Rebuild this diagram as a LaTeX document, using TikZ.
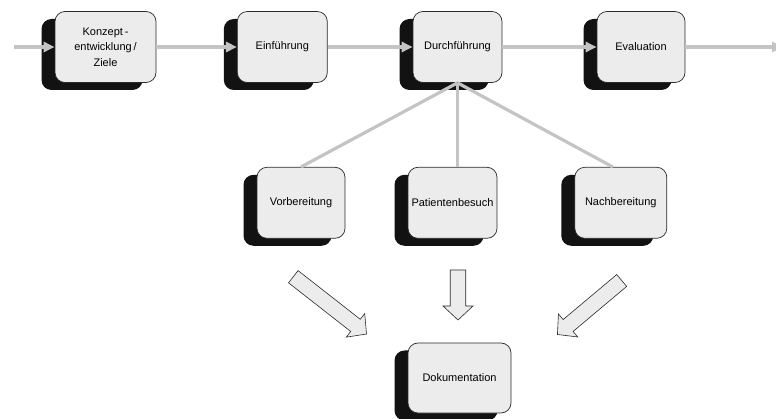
\documentclass[tikz,border=0pt]{standalone}
\usepackage{fontspec}
\setmainfont{Liberation Sans}
\usetikzlibrary{arrows.meta,calc,shadows}
\definecolor{linec}{HTML}{C4C4C4}
\definecolor{boxfill}{HTML}{ECECEC}
\definecolor{boxline}{HTML}{2A2A2A}
\definecolor{shadowc}{HTML}{121212}
\newcommand{\blockarr}[2]{%
  \coordinate (h) at ($(#2)!14pt!(#1)$);
  \path[blockarrow] ($(#1)!7.75pt!90:(#2)$) -- ($(h)!7.75pt!-90:(#1)$) -- ($(h)!15pt!-90:(#1)$) -- (#2)
    -- ($(h)!15pt!90:(#1)$) -- ($(h)!7.75pt!90:(#1)$) -- ($(#1)!7.75pt!-90:(#2)$) -- cycle;}
\begin{document}
\begin{tikzpicture}[x=1pt,y=-1pt,
  font=\fontsize{11}{15.5}\selectfont,
  card/.style={draw=boxline,line width=0.7pt,fill=boxfill,rounded corners=10pt,
    inner sep=0pt,minimum height=71pt,align=center,
    drop shadow={shadow xshift=-13.5pt,shadow yshift=-7.5pt,opacity=1,fill=shadowc}},
  flow/.style={draw=linec,line width=3.5pt,-{Triangle[length=11pt,width=10pt]}},
  branch/.style={draw=linec,line width=3.2pt},
  blockarrow/.style={draw=boxline,line width=0.6pt,fill=boxfill,line join=miter}]
\useasboundingbox (0,0) rectangle (776,419);
\clip (0,0) rectangle (776,419);
% top row
\node[card,minimum width=101pt] (kon) at (105.5,47) {Konzept\,-\\entwicklung\,/\\Ziele};
\node[card,minimum width=90pt] (ein) at (282.3,47) {Einführung};
\node[card,minimum width=89pt] (dur) at (457.5,47) {Durchführung};
\node[card,minimum width=88pt] (eva) at (641,47) {Evaluation};
% second row
\node[card,minimum width=88pt] (vor) at (301,202.8) {Vorbereitung};
\node[card,minimum width=89pt] (pat) at (452.5,202.8) {Patientenbesuch};
\node[card,minimum width=92pt] (nach) at (620.8,202.8) {Nachbereitung};
% bottom
\node[card,minimum width=103pt,minimum height=70pt] (dok) at (459.5,378) {Dokumentation};
% flow arrows
\coordinate (in) at (14,47);
\coordinate (out) at (783,47);
\draw[flow] (in) -- (kon.west);
\draw[flow] (kon.east) -- (ein.west);
\draw[flow] (ein.east) -- (dur.west);
\draw[flow] (dur.east) -- (eva.west);
\draw[flow] (eva.east) -- (out);
% branches
\draw[branch] (dur.south) -- (vor.north);
\draw[branch] (dur.south) -- (pat.north -| dur.south);
\draw[branch] (dur.south) -- ([xshift=-8pt]nach.north);
% block arrows
\coordinate (a1) at (293.3,276.7);
\coordinate (b1) at (366.5,334);
\coordinate (a2) at (458,270);
\coordinate (b2) at (458,320);
\coordinate (a3) at (621.7,280.5);
\coordinate (b3) at (557.4,334.5);
\blockarr{a1}{b1}
\blockarr{a2}{b2}
\blockarr{a3}{b3}
\end{tikzpicture}
\end{document}
